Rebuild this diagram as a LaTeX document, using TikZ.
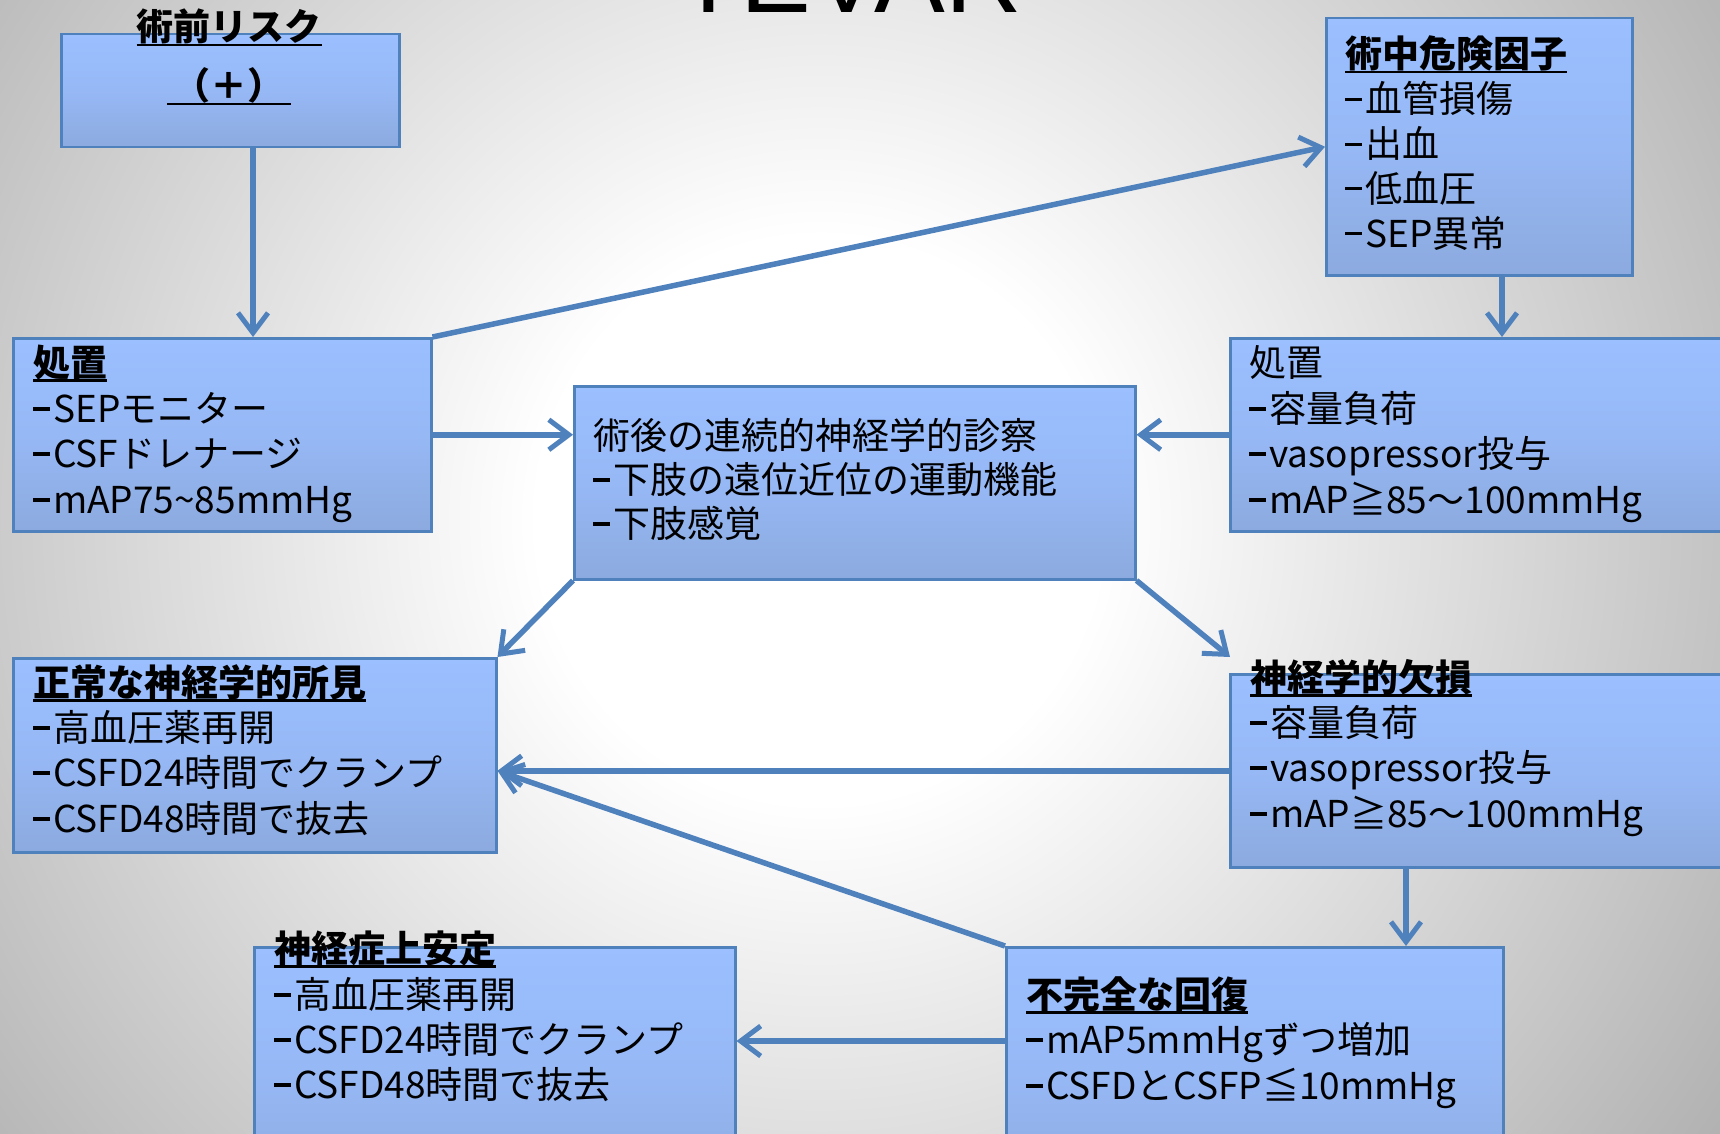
\documentclass[tikz,border=0pt]{standalone}
\usepackage{fontspec}
\setmainfont{Noto Sans CJK JP}
\newfontfamily\titlefont{Liberation Sans}
\usetikzlibrary{arrows.meta,calc}

\definecolor{bline}{HTML}{4F81BD}
\definecolor{btop}{HTML}{9BBFFF}
\definecolor{bmid}{HTML}{96B8F5}
\definecolor{bbot}{HTML}{8CAADF}
\definecolor{bggray}{HTML}{A0A0A0}

\pgfdeclareradialshading{bgshade}{\pgfpoint{0bp}{0bp}}{color(0bp)=(white); color(5bp)=(white); color(22.5bp)=(bggray); color(50bp)=(bggray)}

\newlength\ulwd
\newcommand\ulbox[1]{\settowidth\ulwd{#1}\rlap{\rule[-5.5pt]{\ulwd}{2.6pt}}#1}
\newcommand\dsh{\rule[11.5pt]{17pt}{3.5pt}\hspace{3pt}}

\begin{document}
\begin{tikzpicture}[x=1pt,y=-1pt,
  box/.style={draw=bline, line width=2.5pt, top color=btop, bottom color=bbot, middle color=bmid, inner sep=0pt, anchor=north west},
  ln/.style={anchor=base west, inner sep=0pt, font=\fontsize{37}{45}\selectfont},
  hd/.style={anchor=base west, inner sep=0pt, font=\fontsize{37}{45}\selectfont\bfseries},
  conn/.style={draw=bline, line width=5.5pt, -{Straight Barb[length=20pt,width=30pt,line width=5pt]}}]

\useasboundingbox (0,0) rectangle (1720,1134);
\clip (0,0) rectangle (1720,1134);
\shade[shading=bgshade] (820,520) circle (1414);

\node[anchor=base west, inner sep=0pt, font=\titlefont\fontsize{106}{120}\selectfont] (title) at (676,13) {TEVAR};

% boxes
\node[box, minimum width=338, minimum height=113] (b1) at (60,33) {};
\node[box, minimum width=418, minimum height=193] (b2) at (12,337) {};
\node[box, minimum width=306, minimum height=257] (tr) at (1325,17) {};
\node[box, minimum width=540, minimum height=193] (pr) at (1229,337) {};
\node[box, minimum width=561, minimum height=193] (cb) at (573,385) {};
\node[box, minimum width=483, minimum height=194] (nm) at (12,657) {};
\node[box, minimum width=540, minimum height=193] (nd) at (1229,673) {};
\node[box, minimum width=481, minimum height=250] (ns) at (253,946) {};
\node[box, minimum width=497, minimum height=250] (ic) at (1005,946) {};

% connectors
\coordinate (xa) at (253,0);
\coordinate (xb) at (1502,0);
\coordinate (xc) at (1406,0);
\coordinate (ya) at (0,1041);
\draw[conn] (b1.south -| xa) -- (b2.north -| xa);
\draw[conn] (b2.north east) -- (tr.west);
\draw[conn] (b2.east) -- (b2.east -| cb.west);
\draw[conn] (tr.south -| xb) -- (pr.north -| xb);
\draw[conn] (pr.west) -- (pr.west -| cb.east);
\draw[conn] (cb.south west) -- (nm.north east);
\draw[conn] (cb.south east) -- ($(nd.north west)+(1,-16)$);
\draw[conn] (nd.west) -- (nd.west -| nm.east);
\draw[conn] (ic.north west) -- (nd.west -| nm.east);
\draw[conn] (nd.south -| xc) -- (ic.north -| xc);
\draw[conn] (ic.west |- ya) -- (ns.east |- ya);

% texts
\node[hd, anchor=base] (b1t) at (229,41) {\ulbox{術前リスク}};
\node[hd, anchor=base] (b1p) at (229,100) {\ulbox{\,（＋）\,}};

\node[hd] (b2a) at (33,376) {\ulbox{処置}};
\node[ln] (b2b) at (33,422) {\dsh SEPモニター};
\node[ln] (b2c) at (33,467) {\dsh CSFドレナージ};
\node[ln] (b2d) at (33,513) {\dsh mAP75\textasciitilde85mmHg};

\node[hd] (tra) at (1345,68) {\ulbox{術中危険因子}};
\node[ln] (trb) at (1345,113) {\dsh 血管損傷};
\node[ln] (trc) at (1345,158) {\dsh 出血};
\node[ln] (trd) at (1345,202) {\dsh 低血圧};
\node[ln] (tre) at (1345,247) {\dsh SEP異常};

\node[ln] (pra) at (1249,376) {処置};
\node[ln] (prb) at (1249,422) {\dsh 容量負荷};
\node[ln] (prc) at (1249,467) {\dsh vasopressor投与};
\node[ln] (prd) at (1249,513) {\dsh mAP≧85～100mmHg};

\node[ln] (cba) at (593,449) {術後の連続的神経学的診察};
\node[ln] (cbb) at (593,493) {\dsh 下肢の遠位近位の運動機能};
\node[ln] (cbc) at (593,537) {\dsh 下肢感覚};

\node[hd] (nma) at (33,696) {\ulbox{正常な神経学的所見}};
\node[ln] (nmb) at (33,741) {\dsh 高血圧薬再開};
\node[ln] (nmc) at (33,786) {\dsh CSFD24時間でクランプ};
\node[ln] (nmd) at (33,832) {\dsh CSFD48時間で抜去};

\node[hd] (nda) at (1250,691) {\ulbox{神経学的欠損}};
\node[ln] (ndb) at (1250,736) {\dsh 容量負荷};
\node[ln] (ndc) at (1250,781) {\dsh vasopressor投与};
\node[ln] (ndd) at (1250,827) {\dsh mAP≧85～100mmHg};

\node[hd] (nsa) at (274,962) {\ulbox{神経症上安定}};
\node[ln] (nsb) at (274,1008) {\dsh 高血圧薬再開};
\node[ln] (nsc) at (274,1053) {\dsh CSFD24時間でクランプ};
\node[ln] (nsd) at (274,1098) {\dsh CSFD48時間で抜去};

\node[hd] (ica) at (1026,1008) {\ulbox{不完全な回復}};
\node[ln] (icb) at (1026,1053) {\dsh mAP5mmHgずつ増加};
\node[ln] (icc) at (1026,1099) {\dsh CSFDとCSFP≦10mmHg};
\end{tikzpicture}
\end{document}
